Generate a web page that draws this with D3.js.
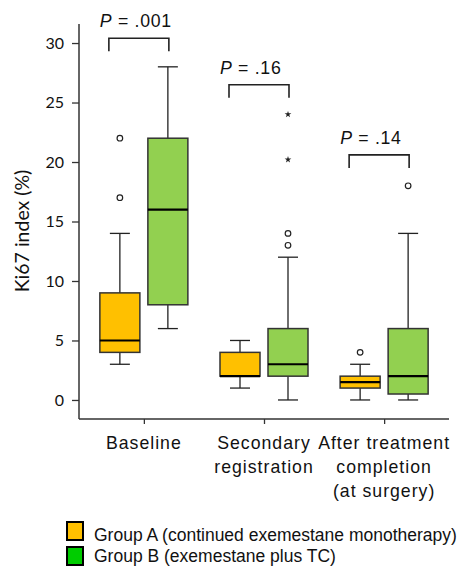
<!DOCTYPE html>
<html>
<head>
<meta charset="utf-8">
<script src="https://cdn.jsdelivr.net/npm/d3@7"></script>
<style>
  body { margin: 0; background: #fff; }
  svg { display: block; }
</style>
</head>
<body>
<div id="chart"></div>
<script>
const categories = ['Baseline', 'Secondary registration', 'After treatment completion']
const categoryLines = [['Baseline'], ['Secondary', 'registration'], ['After treatment', 'completion', '(at surgery)']]
const groups = ['A', 'B']

// box stats per category: [low whisker, q1, median, q3, high whisker]
const groupA = [[3, 4, 5, 9, 14], [1, 2, 2, 4, 5], [0, 1, 1.5, 2, 3]]
const groupB = [[6, 8, 16, 22, 28], [0, 2, 3, 6, 12], [0, 0.5, 2, 6, 14]]
const outliersA = [[17, 22], [], [4]]
const outliersB = [[], [13, 14], [18]]
const extremesB = [[], [20.2, 24], []]

const pValues = ['.001', '.16', '.14']
const bracketLevels = [30.4, 26.5, 20.6]
const yTicks = [0, 5, 10, 15, 20, 25, 30]
const legendLabels = ['Group A (continued exemestane monotherapy)', 'Group B (exemestane plus TC)']

const width = 462
const height = 566

const svg = d3
  .select('#chart')
  .append('svg')
  .attr('width', width)
  .attr('height', height)

const yScale = d3.scaleLinear().domain([-1.6, 31.6]).range([419, 24])
const xScale = d3.scalePoint().domain(categories).range([79, 449]).padding(0.54)
const groupScale = d3.scaleBand().domain(groups).range([-48, 48])
const boxWidth = 40
const capWidth = 20
const boxFill = { A: '#FFC000', B: '#92D050' }
const legendFill = ['#FFC000', '#00CC00']

// axes
const yAxis = d3.axisLeft(yScale).tickValues(yTicks).tickSize(7).tickPadding(8)
const yG = svg
  .append('g')
  .attr('transform', 'translate(79,0)')
  .call(yAxis)
yG.select('.domain').attr('d', 'M0,' + yScale(31.6) + 'V' + yScale(-1.6)).attr('stroke', '#333').attr('stroke-width', 1.5)
yG.selectAll('.tick line').attr('stroke', '#333').attr('stroke-width', 1.3)
yG.selectAll('.tick text')
  .attr('font-family', 'Lato, sans-serif')
  .attr('font-size', 16)
  .attr('fill', '#111')

const xAxis = d3.axisBottom(xScale).tickSize(5).tickFormat('')
const xG = svg
  .append('g')
  .attr('transform', 'translate(0,419)')
  .call(xAxis)
xG.select('.domain').attr('d', 'M79,0H449').attr('stroke', '#333').attr('stroke-width', 1.5)
xG.selectAll('.tick line').attr('stroke', '#333').attr('stroke-width', 1.3)

categories.forEach((c, i) => {
  const t = svg
    .append('text')
    .attr('text-anchor', 'middle')
    .attr('font-family', 'Liberation Sans, Arial, sans-serif')
    .attr('font-size', 17.7)
    .attr('letter-spacing', 1)
    .attr('fill', '#111')
  categoryLines[i].forEach((line, j) => {
    t.append('tspan')
      .attr('x', xScale(c))
      .attr('y', 448.5 + j * 24)
      .text(line)
  })
})

svg
  .append('text')
  .attr('transform', 'translate(29,231) rotate(-90)')
  .attr('text-anchor', 'middle')
  .attr('font-family', 'Lato, sans-serif')
  .attr('font-size', 19.5)
  .attr('fill', '#111')
  .text('Ki67 index (%)')

// boxes
function drawBox(stats, cx, fill) {
  const g = svg.append('g')
  const [lo, q1, med, q3, hi] = stats
  g.append('line')
    .attr('x1', cx).attr('x2', cx)
    .attr('y1', yScale(hi)).attr('y2', yScale(q3))
    .attr('stroke', '#222').attr('stroke-width', 1.3)
  g.append('line')
    .attr('x1', cx).attr('x2', cx)
    .attr('y1', yScale(q1)).attr('y2', yScale(lo))
    .attr('stroke', '#222').attr('stroke-width', 1.3)
  ;[lo, hi].forEach(v => {
    g.append('line')
      .attr('x1', cx - capWidth / 2).attr('x2', cx + capWidth / 2)
      .attr('y1', yScale(v)).attr('y2', yScale(v))
      .attr('stroke', '#222').attr('stroke-width', 1.3)
  })
  g.append('rect')
    .attr('x', cx - boxWidth / 2)
    .attr('y', yScale(q3))
    .attr('width', boxWidth)
    .attr('height', yScale(q1) - yScale(q3))
    .attr('fill', fill)
    .attr('stroke', '#333')
    .attr('stroke-width', 1.5)
  g.append('line')
    .attr('x1', cx - boxWidth / 2).attr('x2', cx + boxWidth / 2)
    .attr('y1', yScale(med)).attr('y2', yScale(med))
    .attr('stroke', '#000').attr('stroke-width', 2.2)
}

function drawOutliers(values, cx) {
  values.forEach(v => {
    svg.append('circle')
      .attr('cx', cx).attr('cy', yScale(v)).attr('r', 2.8)
      .attr('fill', '#fff').attr('stroke', '#222').attr('stroke-width', 1.2)
  })
}

function drawExtremes(values, cx) {
  values.forEach(v => {
    svg.append('path')
      .attr('d', d3.symbol().type(d3.symbolStar).size(14)())
      .attr('transform', 'translate(' + cx + ',' + yScale(v) + ')')
      .attr('fill', '#222')
  })
}

categories.forEach((c, i) => {
  const ax = xScale(c) + groupScale('A') + groupScale.bandwidth() / 2
  const bx = xScale(c) + groupScale('B') + groupScale.bandwidth() / 2
  drawBox(groupA[i], ax, boxFill.A)
  drawBox(groupB[i], bx, boxFill.B)
  drawOutliers(outliersA[i], ax)
  drawOutliers(outliersB[i], bx)
  drawExtremes(extremesB[i], bx)

  // significance bracket
  const left = ax - 11
  const right = bx + 1
  const top = yScale(bracketLevels[i])
  const bottom = yScale(bracketLevels[i] - 1.1)
  svg.append('path')
    .attr('d', 'M' + left + ',' + bottom + 'V' + top + 'H' + right + 'V' + bottom)
    .attr('fill', 'none')
    .attr('stroke', '#222')
    .attr('stroke-width', 1.6)
  const pt = svg.append('text')
    .attr('x', left - 9)
    .attr('y', top - 11)
    .attr('font-family', 'Liberation Sans, Arial, sans-serif')
    .attr('font-size', 17.7)
    .attr('letter-spacing', 0.7)
    .attr('fill', '#111')
  pt.append('tspan').attr('font-style', 'italic').text('P')
  pt.append('tspan').text(' = ' + pValues[i])
})

// legend
legendLabels.forEach((label, i) => {
  svg.append('rect')
    .attr('x', 67).attr('y', 522 + i * 25)
    .attr('width', 16).attr('height', 18)
    .attr('fill', legendFill[i])
    .attr('stroke', '#000')
    .attr('stroke-width', 2)
  svg.append('text')
    .attr('x', 94).attr('y', 541 + i * 20.5)
    .attr('font-family', 'Liberation Sans, Arial, sans-serif')
    .attr('font-size', 17.5)
    .attr('fill', '#111')
    .text(label)
})
</script>
</body>
</html>
